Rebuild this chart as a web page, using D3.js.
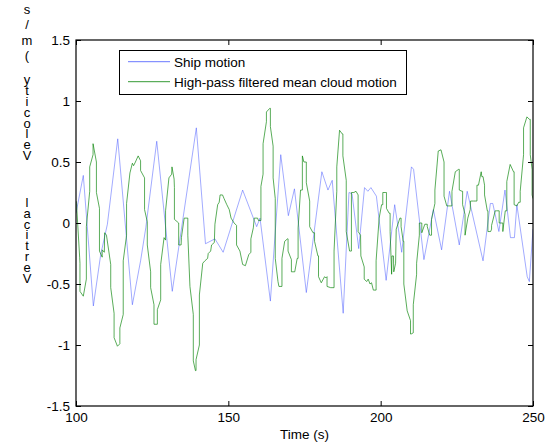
<!DOCTYPE html>
<html>
<head>
<meta charset="utf-8">
<script src="https://cdn.jsdelivr.net/npm/d3@7"></script>
<style>
  html, body { margin: 0; padding: 0; background: #fff; }
  svg { display: block; font-family: "Liberation Sans", Arial, Helvetica, sans-serif; }
</style>
</head>
<body>
<svg id="chart" width="555" height="447"></svg>
<script>
// Ship motion: time (s) and vertical velocity (m/s)
const shipTime = [100.0, 102.4, 105.7, 108.1, 110.3, 113.7, 118.5, 121.2, 122.9, 126.5, 131.6, 139.5, 142.5, 145.6, 148.3, 154.7, 159.3, 160.4, 163.8, 167.2, 169.7, 171.7, 175.6, 180.7, 182.7, 184.1, 187.7, 189.6, 190.6, 192.8, 194.7, 195.8, 196.8, 198.6, 201.8, 204.6, 206.0, 206.9, 210.1, 210.8, 214.2, 217.3, 220.0, 222.6, 225.8, 228.4, 233.6, 236.0, 236.8, 238.8, 240.8, 242.6, 243.9, 244.7, 248.1, 248.8, 250.0];
const shipVel = [0.08, 0.39, -0.68, -0.26, -0.01, 0.69, -0.67, -0.31, -0.04, 0.67, -0.56, 0.78, -0.17, -0.13, -0.24, 0.27, -0.03, 0.04, -0.64, 0.56, 0.06, 0.28, -0.57, 0.42, 0.27, 0.35, -0.74, 0.25, 0.24, -0.21, 0.29, 0.26, 0.29, 0.22, -0.47, 0.15, -0.08, -0.24, 0.46, 0.44, -0.30, 0.11, -0.22, 0.26, -0.18, 0.26, -0.31, 0.16, 0.16, -0.07, 0.27, -0.12, -0.12, 0.15, -0.44, -0.48, -0.05];

// High-pass filtered mean cloud motion: time (s) and vertical velocity (m/s)
const cloudTime = [100.0, 100.2, 100.3, 101.2, 101.3, 101.3, 102.4, 103.4, 103.4, 104.5, 104.5, 105.6, 105.6, 106.7, 106.7, 107.7, 107.7, 108.6, 108.6, 109.3, 109.4, 110.0, 111.4, 111.4, 112.5, 112.5, 113.6, 114.4, 114.4, 115.5, 115.5, 116.6, 116.6, 117.7, 118.5, 118.9, 119.5, 120.4, 121.2, 121.2, 122.5, 122.5, 123.4, 123.4, 124.5, 124.5, 125.6, 125.6, 126.7, 126.7, 127.8, 127.8, 128.9, 129.4, 129.4, 130.5, 131.4, 131.5, 132.2, 132.3, 132.3, 133.7, 133.7, 134.5, 134.6, 135.5, 136.7, 136.7, 137.4, 138.5, 138.5, 139.2, 139.4, 139.4, 140.5, 140.5, 141.6, 142.3, 143.2, 143.4, 144.2, 144.5, 145.4, 145.6, 146.5, 147.0, 147.3, 148.1, 148.6, 149.5, 150.3, 150.9, 151.9, 152.7, 152.7, 153.8, 154.7, 155.6, 156.7, 157.4, 157.4, 158.2, 158.5, 159.6, 159.9, 160.7, 160.7, 161.4, 161.4, 162.5, 162.5, 163.6, 163.8, 163.8, 164.7, 164.7, 165.4, 165.4, 166.3, 166.6, 167.3, 167.6, 167.6, 168.5, 169.4, 169.6, 169.6, 170.7, 170.7, 171.8, 172.6, 172.9, 172.9, 173.7, 174.3, 174.3, 174.8, 175.6, 175.6, 176.7, 176.7, 177.8, 178.3, 178.3, 179.4, 179.6, 179.6, 180.5, 181.6, 182.0, 182.4, 182.4, 183.6, 184.7, 184.7, 185.6, 185.6, 186.5, 187.4, 187.6, 187.6, 188.7, 188.7, 189.8, 190.4, 190.4, 191.2, 191.9, 192.6, 192.6, 193.4, 193.5, 194.6, 194.6, 195.4, 195.9, 196.5, 197.0, 197.6, 198.5, 198.5, 199.5, 200.3, 200.7, 200.7, 201.7, 201.9, 201.9, 202.8, 203.1, 203.1, 203.6, 203.7, 204.2, 204.3, 204.9, 205.1, 205.8, 206.3, 206.7, 206.7, 207.4, 207.6, 207.6, 208.7, 209.8, 209.8, 210.0, 210.7, 210.7, 211.8, 211.8, 212.7, 212.7, 213.5, 213.5, 214.5, 215.3, 215.3, 216.1, 216.7, 216.7, 217.8, 217.8, 218.9, 219.8, 220.8, 220.8, 221.7, 222.8, 223.4, 223.4, 224.5, 225.6, 225.8, 225.8, 226.7, 226.9, 226.9, 227.7, 227.7, 228.6, 229.4, 229.5, 230.5, 231.0, 231.6, 231.6, 232.1, 233.0, 233.2, 233.6, 234.1, 234.1, 235.0, 235.2, 235.2, 236.1, 236.4, 236.4, 237.6, 238.0, 238.9, 238.9, 239.8, 240.1, 240.1, 240.9, 241.4, 241.4, 242.5, 243.6, 243.8, 243.8, 244.7, 245.3, 245.8, 245.8, 246.9, 246.9, 248.0, 248.8, 249.1, 249.1, 249.7, 249.7, 250.0];
const cloudVel = [0.18, 0.16, 0.10, -0.28, -0.33, -0.56, -0.60, -0.46, -0.03, 0.26, 0.46, 0.56, 0.65, 0.50, 0.25, 0.12, -0.23, -0.28, -0.22, -0.24, -0.08, -0.10, -0.34, -0.53, -0.74, -0.94, -1.01, -0.99, -0.86, -0.75, -0.31, -0.10, 0.16, 0.41, 0.49, 0.47, 0.50, 0.55, 0.51, 0.43, 0.37, 0.11, 0.01, -0.18, -0.40, -0.53, -0.67, -0.83, -0.83, -0.71, -0.63, -0.34, -0.12, -0.14, 0.10, 0.37, 0.40, 0.46, 0.36, 0.29, 0.03, 0.00, -0.18, -0.18, -0.12, 0.04, 0.04, -0.10, -0.52, -0.75, -1.13, -1.21, -1.21, -1.12, -1.00, -0.59, -0.33, -0.31, -0.29, -0.25, -0.23, -0.18, -0.16, -0.01, 0.15, 0.17, 0.23, 0.23, 0.20, 0.15, 0.11, 0.04, 0.00, -0.02, -0.18, -0.23, -0.34, -0.35, -0.26, -0.24, -0.13, -0.04, 0.04, 0.04, 0.02, 0.02, 0.30, 0.40, 0.65, 0.83, 0.91, 0.94, 0.94, 0.79, 0.63, 0.37, 0.20, -0.29, -0.48, -0.52, -0.52, -0.52, -0.29, -0.15, -0.13, -0.13, -0.23, -0.30, -0.40, -0.40, -0.29, -0.29, -0.04, 0.27, 0.27, 0.55, 0.50, 0.50, 0.33, 0.18, -0.03, -0.08, -0.08, -0.15, -0.27, -0.27, -0.44, -0.49, -0.44, -0.45, -0.44, -0.52, -0.53, -0.53, -0.23, 0.26, 0.46, 0.76, 0.73, 0.73, 0.55, 0.35, -0.07, -0.23, -0.23, 0.25, 0.25, 0.26, 0.23, -0.07, -0.10, -0.27, -0.36, -0.46, -0.48, -0.46, -0.50, -0.49, -0.55, -0.55, -0.31, 0.04, 0.15, 0.15, 0.25, 0.25, 0.25, 0.12, 0.08, 0.08, -0.07, -0.42, -0.27, -0.27, -0.40, -0.33, -0.05, 0.00, 0.04, 0.04, -0.03, -0.15, -0.15, -0.50, -0.72, -0.80, -0.91, -0.91, -0.90, -0.67, -0.42, -0.33, -0.10, 0.00, 0.00, -0.08, -0.01, -0.01, -0.03, -0.10, -0.10, 0.03, 0.16, 0.27, 0.59, 0.60, 0.50, 0.22, 0.14, 0.14, 0.14, 0.26, 0.42, 0.44, 0.44, 0.27, 0.26, 0.26, 0.15, 0.07, -0.10, 0.04, 0.11, 0.18, 0.18, 0.18, 0.18, 0.31, 0.31, 0.42, 0.38, 0.38, 0.31, 0.23, 0.10, 0.10, -0.07, -0.07, -0.05, -0.02, 0.10, 0.10, 0.10, 0.00, 0.00, 0.00, -0.07, 0.10, 0.10, 0.34, 0.48, 0.42, 0.42, 0.15, 0.14, 0.17, 0.17, 0.26, 0.56, 0.78, 0.87, 0.85, 0.85, 0.56, 0.44, 0.23, 0.20];

// Axis ticks and labels
const xTicks = [100, 150, 200, 250];
const yTicks = [-1.5, -1, -0.5, 0, 0.5, 1, 1.5];
const xLabel = "Time (s)";
const yLabel = "Vertical Velocity (m/s)";
const seriesNames = ["Ship motion", "High-pass filtered mean cloud motion"];
const seriesColors = ["#4456ff", "#008000"];

const svg = d3.select("#chart");
const plotL = 76, plotR = 533, plotT = 40, plotB = 406;

const x = d3.scaleLinear().domain([100, 250]).range([plotL, plotR]);
const y = d3.scaleLinear().domain([-1.5, 1.5]).range([plotB, plotT]);

// data lines, clipped to the axes box
svg.append("clipPath").attr("id", "plotClip")
  .append("rect").attr("x", plotL).attr("y", plotT)
  .attr("width", plotR - plotL).attr("height", plotB - plotT);

const line = d3.line().x(d => x(d[0])).y(d => y(d[1]));
const ship = shipTime.map((t, i) => [t, shipVel[i]]);
const cloud = cloudTime.map((t, i) => [t, cloudVel[i]]);

const plot = svg.append("g").attr("clip-path", "url(#plotClip)");
plot.append("path").datum(ship).attr("d", line)
  .attr("fill", "none").attr("stroke", seriesColors[0]).attr("stroke-width", 0.5)
  .attr("stroke-linejoin", "round");
plot.append("path").datum(cloud).attr("d", line)
  .attr("fill", "none").attr("stroke", seriesColors[1]).attr("stroke-width", 0.65)
  .attr("stroke-linejoin", "round");

// axes: bottom and left with labels, top and right mirrored without labels
const tickLen = 5;
const axisBottom = d3.axisBottom(x).tickValues(xTicks).tickSizeInner(-tickLen).tickSizeOuter(0).tickPadding(6).tickFormat(d3.format("d"));
const axisTop = d3.axisTop(x).tickValues(xTicks).tickSizeInner(-tickLen).tickSizeOuter(0).tickFormat("");
const axisLeft = d3.axisLeft(y).tickValues(yTicks).tickSizeInner(-tickLen).tickSizeOuter(0).tickPadding(6).tickFormat(d => String(d));
const axisRight = d3.axisRight(y).tickValues(yTicks).tickSizeInner(-tickLen).tickSizeOuter(0).tickFormat("");

function styleAxis(g) {
  g.select(".domain").remove();
  g.selectAll(".tick line").attr("stroke", "#000").attr("stroke-width", 1);
  g.selectAll(".tick text").attr("fill", "#000").attr("font-size", "13.5px")
    .attr("font-family", "Liberation Sans, Arial, sans-serif");
}
svg.append("g").attr("transform", `translate(0,${plotB})`).call(axisBottom).call(styleAxis);
svg.append("g").attr("transform", `translate(0,${plotT})`).call(axisTop).call(styleAxis);
svg.append("g").attr("transform", `translate(${plotL},0)`).call(axisLeft).call(styleAxis);
svg.append("g").attr("transform", `translate(${plotR},0)`).call(axisRight).call(styleAxis);

// axes box
svg.append("rect").attr("x", plotL).attr("y", plotT)
  .attr("width", plotR - plotL).attr("height", plotB - plotT)
  .attr("fill", "none").attr("stroke", "#000").attr("stroke-width", 1.2);

// x-axis title
svg.append("text").attr("x", (plotL + plotR) / 2).attr("y", 439)
  .attr("text-anchor", "middle").attr("font-size", "13.5px").text(xLabel);

// y-axis title: upright glyphs stacked from the bottom up, one glyph per slot;
// a word break takes a wider slot than a letter, and the units run looser
const glyphStep = 10.8;
const unitStep = 15.5;
const breakStep = [47, 24];
const glyphCenters = [];
{
  let cy = 278, breaks = 0;
  Array.from(yLabel).forEach((c, i) => {
    if (c === " ") { glyphCenters.push(null); cy -= breakStep[breaks++] - glyphStep; return; }
    glyphCenters.push(cy);
    const inUnits = yLabel.indexOf("(") <= i;
    cy -= inUnits ? (c === "s" ? 18 : unitStep) : glyphStep;
  });
}
const yTitle = svg.append("g").attr("font-size", "13px").attr("text-anchor", "middle");
Array.from(yLabel).forEach((c, i) => {
  if (glyphCenters[i] === null) return;
  yTitle.append("text").attr("x", 27).attr("y", glyphCenters[i])
    .attr("dominant-baseline", "central").text(c);
});

// legend
const lg = svg.append("g");
lg.append("rect").attr("x", 119.5).attr("y", 50.5).attr("width", 287).attr("height", 44)
  .attr("fill", "#fff").attr("stroke", "#000").attr("stroke-width", 1);
seriesNames.forEach((name, i) => {
  const ly = 61.7 + i * 20;
  lg.append("line").attr("x1", 128).attr("x2", 170).attr("y1", ly).attr("y2", ly)
    .attr("stroke", seriesColors[i]).attr("stroke-width", 0.8);
  lg.append("text").attr("x", 174).attr("y", ly + 4.8).attr("font-size", "13.5px").text(name);
});
</script>
</body>
</html>
